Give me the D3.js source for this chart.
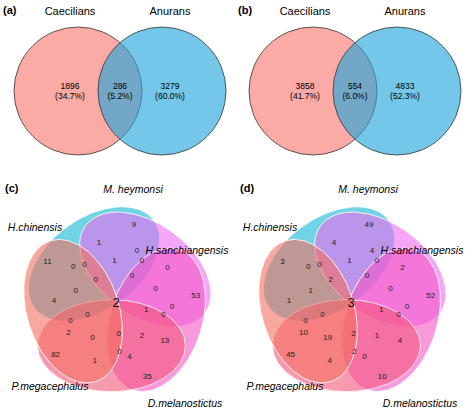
<!DOCTYPE html>
<html><head><meta charset="utf-8">
<script src="https://cdn.jsdelivr.net/npm/d3@7"></script>
<style>body{margin:0;background:#fff}text{font-family:"Liberation Sans",Arial,sans-serif}</style>
</head><body><svg width="474" height="414"></svg>
<script>
// two-set venns
const setNames2 = ['Caecilians', 'Anurans'];
const countsA = [1896, 286, 3279];
const pctA = ['34.7%', '5.2%', '60.0%'];
const countsB = [3858, 554, 4833];
const pctB = ['41.7%', '6.0%', '52.3%'];

// five-set venns: sets clockwise from top
const setNames5 = ['M. heymonsi', 'H.sanchiangensis', 'D.melanostictus', 'P.megacephalus', 'H.chinensis'];
const setColors5 = ['#10b6d6', '#ec6cf0', '#f355c4', '#f4577a', '#f4705f'];
// region orbits: each has 5 regions, rotated by 72 deg
const orbitNames = ['only', 'ringE', 'ringD', 'ringC', 'ringB', 'ringA'];
const countsC = {only: [9, 53, 35, 82, 11], ringE: [1, 0, 13, 1, 4], ringD: [0, 0, 4, 2, 0],
  ringC: [0, 0, 0, 0, 0], ringB: [1, 0, 2, 0, 0], ringA: [0, 0, 1, 0, 0], center: 2};
const countsD = {only: [49, 52, 10, 45, 3], ringE: [4, 2, 4, 4, 1], ringD: [4, 0, 0, 10, 0],
  ringC: [0, 0, 0, 2, 0], ringB: [1, 0, 1, 19, 1], ringA: [2, 0, 1, 2, 0], center: 3};

const svg = d3.select('svg');

function venn2(cx, counts, pct, tag) {
  const g = svg.append('g');
  const x = d3.scaleLinear().domain([0, 1]).range([cx - 42, cx + 42]);
  const cy = 91, r = 64;
  [['#f8766d', 0], ['#1fa5dc', 1]].forEach(([c, i]) => {
    g.append('circle').attr('cx', x(i)).attr('cy', cy).attr('r', r)
      .attr('fill', c).attr('fill-opacity', 0.62).attr('stroke', '#333').attr('stroke-width', 0.8);
  });
  setNames2.forEach((n, i) => g.append('text').attr('x', x(i) - 8 + 16 * i).attr('y', 15)
    .attr('text-anchor', 'middle').attr('font-size', 11).text(n));
  const lx = [x(0) - 8, (x(0) + x(1)) / 2, x(1) + 8];
  counts.forEach((v, i) => {
    g.append('text').attr('x', lx[i]).attr('y', 89).attr('text-anchor', 'middle').attr('font-size', 8.5).text(v);
    g.append('text').attr('x', lx[i]).attr('y', 99).attr('text-anchor', 'middle').attr('font-size', 8.5).text('(' + pct[i] + ')');
  });
  g.append('text').attr('x', cx - 117).attr('y', 14).attr('font-weight', 'bold').attr('font-size', 11).text(tag);
}
venn2(120, countsA, pctA, '(a)');
venn2(355, countsB, pctB, '(b)');

// orbit geometry: radius and base angle (deg)
const orbitGeo = {only: [80, -77], ringE: [62, -106], ringD: [56, -68], ringC: [49, -130], ringB: [42, -92], ringA: [31, -131]};
const namePos = [[17, -109], [71, -48], [69, 105], [-66, 88], [-81, -71]];

function venn5(cx, counts, tag) {
  const cy = 302;
  const g = svg.append('g').attr('transform', `translate(${cx},${cy})`);
  const rad = d => d * Math.PI / 180;
  setColors5.forEach((c, k) => {
    g.append('ellipse').attr('cx', -22).attr('cy', -38).attr('rx', 74).attr('ry', 46)
      .attr('transform', `rotate(${72 * k}) rotate(-36,-22,-38)`)
      .attr('fill', c).attr('fill-opacity', 0.6).attr('stroke', '#fff').attr('stroke-width', 0.8);
  });
  orbitNames.forEach(o => {
    const [r, a0] = orbitGeo[o];
    counts[o].forEach((v, k) => {
      const a = rad(a0 + 72 * k);
      g.append('text').attr('x', r * Math.cos(a)).attr('y', r * Math.sin(a) + 3)
        .attr('text-anchor', 'middle').attr('font-size', 8).attr('fill', '#222').text(v);
    });
  });
  g.append('text').attr('x', 0).attr('y', 5).attr('text-anchor', 'middle').attr('font-size', 13).text(counts.center);
  setNames5.forEach((n, k) => g.append('text').attr('x', namePos[k][0]).attr('y', namePos[k][1])
    .attr('text-anchor', 'middle').attr('font-style', 'italic').attr('font-size', 10.5).text(n));
  g.append('text').attr('x', -111).attr('y', -110).attr('font-weight', 'bold').attr('font-size', 11).text(tag);
}
venn5(116, countsC, '(c)');
venn5(351, countsD, '(d)');
</script></body></html>
